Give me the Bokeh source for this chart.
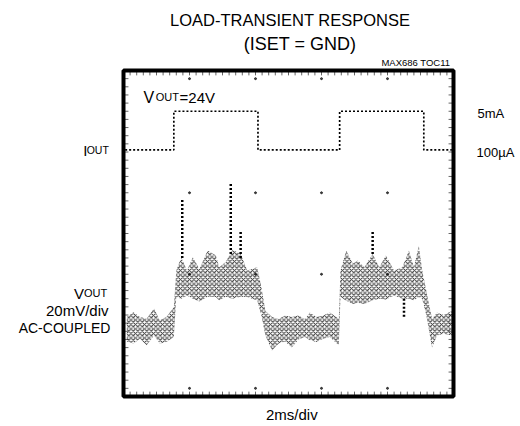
from bokeh.plotting import figure
from bokeh.models import Range1d, Label
from bokeh.embed import file_html
from bokeh.resources import INLINE
import numpy as np

# ---- data (time in ms, amplitude in scope divisions) ----
iout_t = [0.1, 3.05, 3.05, 8.15, 8.15, 13.1, 13.1, 18.2, 18.2, 19.9]
iout_div = [6.05, 6.05, 7.0, 7.0, 6.05, 6.05, 7.0, 7.0, 6.05, 6.05]

vout_t = [0.2, 0.6, 1.0, 1.4, 1.85, 2.2, 2.6, 3.05, 3.2, 3.5, 3.85, 4.2, 4.6, 5.1,
          5.6, 5.8, 6.2, 6.6, 7.1, 7.5, 8.1, 8.35, 8.6, 9.0, 9.4, 9.8, 10.2, 10.6,
          11.0, 11.3, 11.7, 12.1, 12.5, 13.05, 13.15, 13.5, 13.9, 14.2, 14.6, 15.1,
          15.5, 15.9, 16.4, 16.9, 17.3, 17.6, 17.9, 18.1, 18.35, 18.7, 19.0, 19.4, 19.9]
vout_hi = [1.95, 2.07, 1.95, 1.91, 2.16, 1.87, 1.95, 2.19, 3.09, 3.42, 3.09, 3.42,
           3.13, 3.58, 3.46, 3.17, 3.30, 3.60, 3.50, 3.09, 3.17, 2.70, 2.10, 1.95,
           1.90, 1.99, 1.95, 1.99, 1.90, 2.06, 1.95, 1.99, 2.06, 1.91, 3.09, 3.58,
           3.26, 3.34, 3.17, 3.50, 3.17, 3.46, 3.09, 3.17, 3.58, 3.17, 3.70, 3.10,
           2.60, 1.90, 2.06, 2.00, 2.10]
vout_lo = [1.35, 1.30, 1.42, 1.26, 1.50, 1.30, 1.34, 1.46, 2.44, 2.40, 2.48, 2.40,
           2.33, 2.45, 2.44, 2.36, 2.45, 2.40, 2.45, 2.44, 2.36, 2.00, 1.50, 1.13,
           1.30, 1.35, 1.20, 1.40, 1.46, 1.38, 1.34, 1.42, 1.46, 1.26, 2.44, 2.35,
           2.27, 2.30, 2.27, 2.36, 2.40, 2.38, 2.48, 2.40, 2.40, 2.36, 2.44, 2.40,
           2.00, 1.20, 1.50, 1.54, 1.50]

spike_t = [3.56, 6.5, 7.1, 15.1, 17.0]
spike_base = [3.40, 3.50, 3.40, 3.50, 2.40]
spike_tip = [4.86, 5.23, 4.07, 4.07, 1.95]

grid_x = [4, 8, 12, 16]
grid_y = [0.2, 3, 5, 7.8]

# scope screen: 10 x 2ms horizontally, 8 divisions vertically
T_SPAN = 20
DIVS = 8

FONT = "Liberation Sans"

W, H = 518, 424
# frame of the scope screen in canvas pixels
FL, FR, FT, FB = 123, 453, 70, 396
sx = (FR - FL) / T_SPAN
sy = (FB - FT) / DIVS

p = figure(width=W, height=H, output_backend="svg", toolbar_location=None,
           x_range=Range1d(-FL / sx, (W - FL) / sx),
           y_range=Range1d((FB - H) / sy, FB / sy),
           min_border=0, min_border_left=0, min_border_right=0,
           min_border_top=0, min_border_bottom=0)
p.xaxis.visible = False
p.yaxis.visible = False
p.grid.visible = False
p.outline_line_color = None
p.background_fill_color = "white"
p.border_fill_color = "white"

# minor graticule ticks along the edges
ty = np.arange(0.2, DIVS, 0.2)
tx = np.arange(0.4, T_SPAN, 0.4)
p.segment(x0=0, y0=ty, x1=0.3, y1=ty, line_color="black", line_width=1, line_alpha=0.6)
p.segment(x0=T_SPAN, y0=ty, x1=T_SPAN - 0.3, y1=ty, line_color="black", line_width=1, line_alpha=0.6)
p.segment(x0=tx, y0=0, x1=tx, y1=0.12, line_color="black", line_width=1, line_alpha=0.6)
p.segment(x0=tx, y0=DIVS, x1=tx, y1=DIVS - 0.12, line_color="black", line_width=1, line_alpha=0.6)

gx, gy = np.meshgrid(grid_x, grid_y)
p.scatter(gx.ravel(), gy.ravel(), size=2, color="black", alpha=0.7)

# V_OUT noisy trace (stippled band)
p.varea(x=vout_t, y1=vout_lo, y2=vout_hi, fill_alpha=0, hatch_pattern="x",
        hatch_scale=4.5, hatch_weight=1.0, hatch_color="black", hatch_alpha=0.8)
p.segment(x0=spike_t, y0=spike_base, x1=spike_t, y1=spike_tip,
          line_color="black", line_width=2.5, line_dash="2 2")

# I_OUT trace
p.line(iout_t, iout_div, line_color="black", line_width=1.7, line_dash="2 2")

# scope screen border
p.quad(left=0, right=T_SPAN, bottom=0, top=DIVS, fill_color=None,
       line_color="black", line_width=4)

def lab(x, y, text, size, align="left", baseline="middle"):
    p.add_layout(Label(x=x, y=y, text=text, text_font=FONT,
                       text_font_size=f"{size}px", text_color="black",
                       text_align=align, text_baseline=baseline))

lab(10.1, 9.23, "LOAD-TRANSIENT RESPONSE", 16.5, "center")
lab(10.7, 8.65, "(ISET = GND)", 18, "center")
lab(19.8, 8.2, "MAX686 TOC11", 9.5, "right")

lab(1.21, 7.34, "V", 16, "left", "alphabetic")
lab(1.95, 7.34, "OUT", 11, "left", "alphabetic")
lab(3.40, 7.34, "=24V", 15, "left", "alphabetic")

lab(-2.44, 6.04, "I", 15, "left", "alphabetic")
lab(-0.89, 6.04, "OUT", 10.5, "right", "alphabetic")

lab(-2.40, 2.53, "V", 15, "right", "alphabetic")
lab(-0.99, 2.53, "OUT", 11, "right", "alphabetic")
lab(-0.91, 2.11, "20mV/div", 15, "right")
lab(-0.79, 1.69, "AC-COUPLED", 14, "right")

lab(21.45, 6.94, "5mA", 13, "left")
lab(21.4, 5.99, "100µA", 13, "left")

lab(10.2, -0.45, "2ms/div", 15, "center")

open("out.html", "w").write(file_html(p, INLINE))
